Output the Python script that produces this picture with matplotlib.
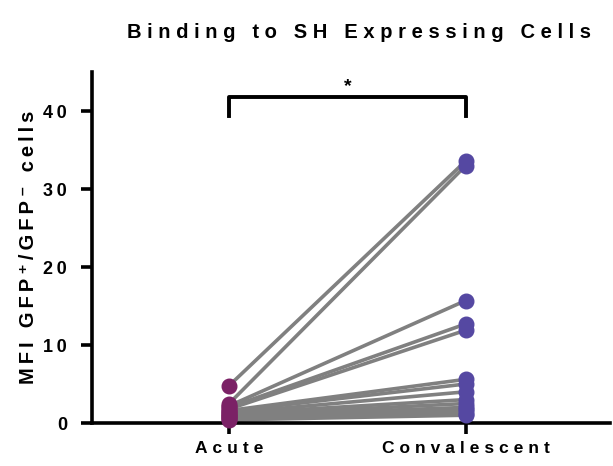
import matplotlib
matplotlib.use('Agg')
import matplotlib.pyplot as plt
import numpy as np

plt.rcParams['font.family'] = ['Liberation Sans', 'DejaVu Sans']
plt.rcParams['font.weight'] = 'bold'

groups = ['Acute', 'Convalescent']
acute = [4.8, 2.5, 2.2, 2.0, 1.8, 1.6, 1.5, 1.3, 1.2, 1.0, 0.9, 0.8, 0.6, 0.5, 0.4]
conv = [33.6, 33.0, 15.7, 12.7, 11.9, 5.6, 5.0, 4.0, 3.0, 2.5, 2.0, 1.8, 1.5, 1.2, 1.0]
yticks = [0, 10, 20, 30, 40]


def sp(s, gap='\u2009\u200a'):
    # wide letter spacing like the original
    return gap.join(s)


fig = plt.figure(figsize=(6.13, 4.66), dpi=100)
ax = fig.add_axes([92/613, 1-423/466, (610-92)/613, (423-72)/466])

for a, c in zip(acute, conv):
    ax.plot([0, 1], [a, c], color='#808080', lw=2.6, zorder=2, solid_capstyle='butt')
ax.plot(np.zeros(len(acute)), acute, 'o', color='#7B2166', ms=10.5, zorder=3, clip_on=False)
ax.plot(np.ones(len(conv)), conv, 'o', color='#5548A2', ms=10.5, zorder=3, clip_on=False)

# significance bracket
ax.plot([0, 0, 1, 1], [39.4, 41.8, 41.8, 39.4], color='black', lw=2.8, clip_on=False)
ax.text(0.5, 42.0, '*', ha='center', va='bottom', fontsize=14, fontweight='bold')

ax.set_xlim(-0.58, 1.61)
ax.set_ylim(0, 45)
ax.set_xticks([0, 1])
ax.set_xticklabels([sp(g) for g in groups], fontsize=12.5, fontweight='bold')
ax.set_yticks(yticks)
ax.set_yticklabels([sp(str(t), '\u2009') for t in yticks], fontsize=13, fontweight='bold')
ax.tick_params(axis='x', width=2.6, length=8, direction='out', pad=5)
ax.tick_params(axis='y', width=2.6, length=8, direction='out', pad=10)

for s in ['top', 'right']:
    ax.spines[s].set_visible(False)
for s in ['left', 'bottom']:
    ax.spines[s].set_linewidth(2.6)

wgap = '\u2002\u2009'
ylab = sp('MFI', '\u2009') + wgap + sp('GFP\u207a/GFP\u207b', '\u2009') + wgap + sp('cells', '\u2009')
ax.set_ylabel(ylab, fontsize=14.5, fontweight='bold', labelpad=4)
fig.text(359/613, 1-32/466, sp('Binding to SH Expressing Cells'), ha='center', va='center',
         fontsize=14.5, fontweight='bold')

fig.savefig('out.png', dpi=100)
